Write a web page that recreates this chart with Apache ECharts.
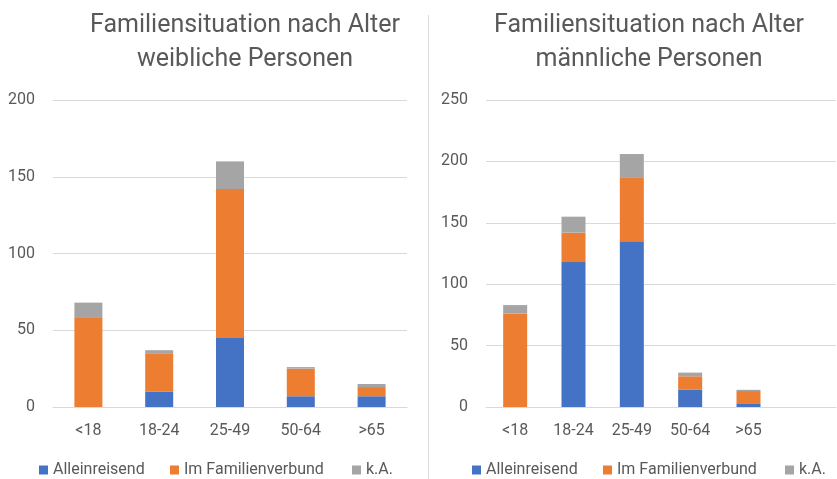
<!DOCTYPE html>
<html>
<head>
<meta charset="utf-8">
<script src="https://cdn.jsdelivr.net/npm/echarts@6/dist/echarts.min.js"></script>
<style>
html,body{margin:0;padding:0;background:#fff;}
#main{width:837px;height:479px;}
</style>
</head>
<body>
<div id="main"></div>
<script>
// Kategorien
var categoriesLeft = ['<18', '18-24', '25-49', '50-64', '>65'];
var categoriesRight = ['<18', '18-24', '25-49', '50-64', '>65', ''];
// weibliche Personen
var femaleAllein = [0, 10, 45, 7, 7];
var femaleFamilie = [58, 25, 97, 18, 6];
var femaleKA = [10, 2, 18, 1, 2];
// männliche Personen
var maleAllein = [0, 118, 135, 14, 3];
var maleFamilie = [76, 24, 52, 11, 10];
var maleKA = [7, 13, 19, 3, 1];

var seriesNames = ['Alleinreisend', 'Im Familienverbund', 'k.A.'];
var colors = ['#4472c4', '#ed7d31', '#a5a5a5'];
var font = 'Roboto, "Open Sans", sans-serif';
var textColor = '#595959';

var chart = echarts.init(document.getElementById('main'));

var makeBar = function (name, data, idx, stack, barWidth) {
    return {
        name: name,
        type: 'bar',
        stack: stack,
        xAxisIndex: idx,
        yAxisIndex: idx,
        barWidth: barWidth,
        data: data,
        itemStyle: {color: colors[seriesNames.indexOf(name)]},
        emphasis: {disabled: true}
    };
};

var xAxisOf = function (cats, idx) {
    return {
        type: 'category',
        gridIndex: idx,
        data: cats,
        axisTick: {show: false},
        axisLine: {lineStyle: {color: '#d9d9d9'}},
        axisLabel: {color: textColor, fontSize: 16, fontFamily: font, margin: 16}
    };
};

var yAxisOf = function (max, idx) {
    return {
        type: 'value',
        gridIndex: idx,
        min: 0,
        max: max,
        interval: 50,
        axisLine: {show: false},
        axisTick: {show: false},
        splitLine: {lineStyle: {color: '#d9d9d9'}},
        axisLabel: {color: textColor, fontSize: 16, fontFamily: font, margin: 18}
    };
};

// ein Legendeneintrag je Position (wie in Excel verteilt)
var legendItem = function (name, left) {
    return {
        data: [name],
        left: left,
        top: 462,
        padding: 0,
        icon: 'rect',
        itemWidth: 9,
        itemHeight: 9,
        textStyle: {color: textColor, fontSize: 16, fontFamily: font}
    };
};

var titleStyle = {color: textColor, fontSize: 25, fontWeight: 'normal', fontFamily: font, lineHeight: 34};

var option = {
    animation: false,
    textStyle: {fontFamily: font},
    title: [
        {
            text: 'Familiensituation nach Alter\nweibliche Personen',
            left: 240, top: 4, textAlign: 'center',
            textStyle: titleStyle
        },
        {
            text: 'Familiensituation nach Alter\nmännliche Personen',
            left: 644, top: 4, textAlign: 'center',
            textStyle: titleStyle
        }
    ],
    legend: [
        legendItem('Alleinreisend', 39),
        legendItem('Im Familienverbund', 170),
        legendItem('k.A.', 352),
        legendItem('Alleinreisend', 472),
        legendItem('Im Familienverbund', 603),
        legendItem('k.A.', 785)
    ],
    grid: [
        {left: 53, width: 354, top: 100, height: 307},
        {left: 486, width: 350, top: 100, height: 307}
    ],
    xAxis: [xAxisOf(categoriesLeft, 0), xAxisOf(categoriesRight, 1)],
    yAxis: [yAxisOf(200, 0), yAxisOf(250, 1)],
    graphic: [{
        type: 'line',
        shape: {x1: 428.5, y1: 15, x2: 428.5, y2: 479},
        style: {stroke: '#d9d9d9', lineWidth: 1}
    }],
    series: [
        makeBar('Alleinreisend', femaleAllein, 0, 'w', 28),
        makeBar('Im Familienverbund', femaleFamilie, 0, 'w', 28),
        makeBar('k.A.', femaleKA, 0, 'w', 28),
        makeBar('Alleinreisend', maleAllein, 1, 'm', 24),
        makeBar('Im Familienverbund', maleFamilie, 1, 'm', 24),
        makeBar('k.A.', maleKA, 1, 'm', 24)
    ]
};
chart.setOption(option);
</script>
</body>
</html>
